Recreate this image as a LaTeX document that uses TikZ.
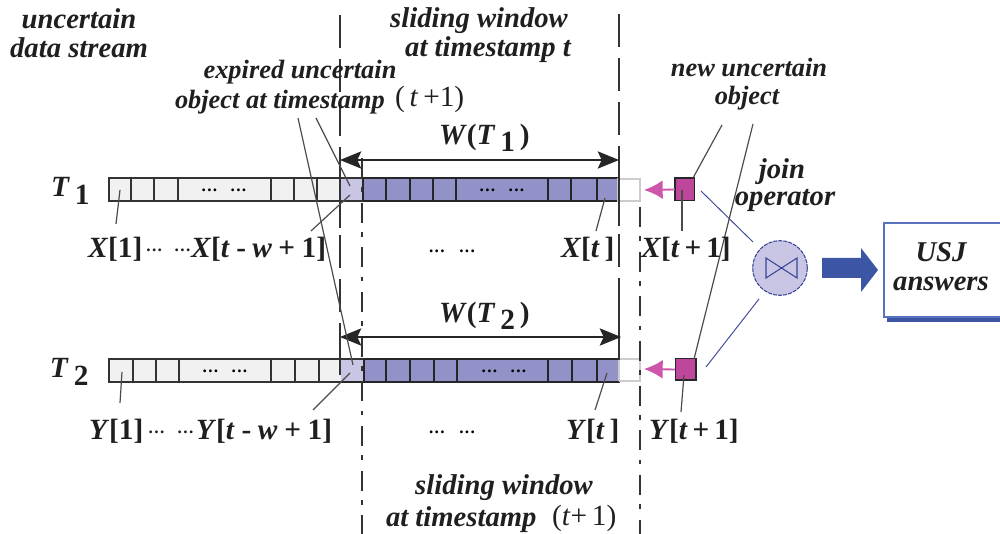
\documentclass[tikz,border=0pt]{standalone}
\usepackage{fontspec}
\setmainfont{Liberation Serif}
\usetikzlibrary{arrows.meta}
\definecolor{cellgray}{RGB}{241,241,241}
\definecolor{lilac}{RGB}{200,198,228}
\definecolor{winblue}{RGB}{146,146,200}
\definecolor{magsq}{RGB}{190,70,155}
\definecolor{pinkarr}{RGB}{205,85,170}
\definecolor{joinblue}{RGB}{60,70,150}
\definecolor{bigblue}{RGB}{60,85,165}
\definecolor{boxblue}{RGB}{90,115,190}
\tikzset{
  every node/.style={inner sep=0pt,outer sep=0pt},
  ital/.style={font=\fontsize{21.5}{21.5}\selectfont\bfseries\itshape,align=center,text=black!88},
  italsm/.style={font=\fontsize{19.8}{19.8}\selectfont\bfseries\itshape,align=center,text=black!88},
  mlab/.style={font=\fontsize{22}{22}\selectfont\bfseries,text=black!88,anchor=west},
  cellg/.style={draw=black!80,line width=1pt,fill=cellgray},
  cellw/.style={draw=black!85,line width=1pt,fill=winblue},
  celll/.style={fill=lilac},
  ghost/.style={draw=black!20,line width=1pt,fill=white},
  newsq/.style={draw=black!85,line width=1pt,fill=magsq},
  leader/.style={draw=black!70,line width=.9pt},
  joinline/.style={draw=joinblue,line width=.7pt},
  wline/.style={draw=black!85,line width=.9pt},
  bound/.style={draw=black!80,line width=1pt,dash pattern=on 25pt off 8pt},
  boundsolid/.style={draw=black!80,line width=1pt},
  bounddd/.style={draw=black!80,line width=1pt,dash pattern=on 15pt off 7pt on 3.5pt off 8pt},
  warrow/.style={wline,{Stealth[length=16pt,width=13pt,inset=3pt]}-{Stealth[length=16pt,width=13pt,inset=3pt]}},
  pinkar/.style={draw=pinkarr,line width=1.4pt,-{Latex[length=14pt,width=14pt]}},
  joinop/.style={circle,draw=joinblue,line width=.8pt,dash pattern=on 3pt off .8pt,fill=lilac,minimum size=41pt},
  resbox/.style={draw=boxblue,line width=1.5pt,fill=white},
}
\newcommand{\vv}[1]{\textit{#1}}
\newcommand{\cdotsx}{{\fontsize{13}{13}\selectfont\bfseries .\kern1pt.\kern1pt.}}
\newcommand{\rdots}{\raisebox{4pt}{\cdotsx}}
\begin{document}
\begin{tikzpicture}[x=0.75pt,y=-0.75pt]
\useasboundingbox (0,0) rectangle (1000,534);
% row 1
\path[cellg] (109,178) rectangle (363,201);
\path[celll] (340.5,178.5) rectangle (363,200.5);
\path[cellw] (363,178) rectangle (618,201);
\path[ghost] (618,179) rectangle (640,201);
\foreach \x in {131,154,178,271,294,317} \draw[cellg] (\x,178) -- (\x,201);
\foreach \x in {386,410,433,456,548,571,597} \draw[cellw] (\x,178) -- (\x,201);
\draw[cellg] (109,178) -- (363,178) (109,201) -- (363,201);
% row 2
\path[cellg] (109,359) rectangle (364,382);
\path[celll] (341,359.5) rectangle (364,381.5);
\path[cellw] (364,359) rectangle (619,382);
\path[ghost] (619,359) rectangle (640,381);
\foreach \x in {133,156,179,271,295,319} \draw[cellg] (\x,359) -- (\x,382);
\foreach \x in {386,410,434,457,548,572,597} \draw[cellw] (\x,359) -- (\x,382);
\draw[cellg] (109,359) -- (364,359) (109,382) -- (364,382);
\draw[draw=black!85,line width=1.4pt] (341,382) -- (619,382);
% cell dots
\node (d1) at (224,190) {\cdotsx\kern10pt\cdotsx};
\node (d2) at (502,190) {\cdotsx\kern10pt\cdotsx};
\node (d3) at (225,371) {\cdotsx\kern10pt\cdotsx};
\node (d4) at (504,371) {\cdotsx\kern10pt\cdotsx};
% window boundaries
\coordinate (a1) at (340,15); \coordinate (a2) at (340,360);
\coordinate (a3) at (340,160); \coordinate (a4) at (340,228);
\coordinate (a5) at (340,330); \coordinate (a6) at (340,375);
\coordinate (b1) at (362,158); \coordinate (b2) at (362,534);
\coordinate (c1) at (619,14); \coordinate (c2) at (619,282);
\coordinate (c3) at (619,148); \coordinate (c4) at (619,226);
\coordinate (c5) at (619,282); \coordinate (c6) at (619,360);
\coordinate (e1) at (640,207); \coordinate (e2) at (640,534);
\draw[bound] (a1) -- (a2);
\draw[boundsolid] (a3) -- (a4);
\draw[boundsolid] (a5) -- (a6);
\draw[bounddd] (b1) -- (b2);
\draw[bound] (c1) -- (c2);
\draw[boundsolid] (c3) -- (c4);
\draw[boundsolid] (c5) -- (c6);
\draw[bounddd] (e1) -- (e2);
% width arrows
\coordinate (w1a) at (340,160); \coordinate (w1b) at (619,160);
\coordinate (w2a) at (340,337); \coordinate (w2b) at (621,337);
\draw[warrow] (w1a) -- (w1b);
\draw[warrow] (w2a) -- (w2b);
% squares and pink arrows
\node[newsq,minimum width=14.5pt,minimum height=17pt] (s1) at (684.5,189.5) {};
\node[newsq,minimum width=15.5pt,minimum height=16pt] (s2) at (685.5,369.5) {};
\coordinate (g1) at (644,190); \coordinate (g2) at (644,369);
\draw[pinkar] (s1.west) -- (g1);
\draw[pinkar] (s2.west) -- (g2);
% join and result
\node[joinop] (join) at (780,268) {};
\draw[joinblue,line width=.8pt] (766,258) -- (797,278) -- (797,258) -- (766,278) -- cycle;
\coordinate (j1a) at (701,191); \coordinate (j1b) at (753,242);
\coordinate (j2a) at (759,299); \coordinate (j2b) at (706,367);
\draw[joinline] (j1a) -- (j1b);
\draw[joinline] (j2a) -- (j2b);
\fill[bigblue] (887,228) rectangle (1000,322);
\node[resbox,minimum width=90pt,minimum height=70.5pt,anchor=north west] (res) at (883.5,223) {};
\fill[bigblue] (822,258) -- (861,258) -- (861,248) -- (878,270) -- (861,292) -- (861,278) -- (822,278) -- cycle;
% leaders
\coordinate (l1a) at (316,118); \coordinate (l1b) at (350,186);
\coordinate (l2a) at (298,118); \coordinate (l2b) at (353,365);
\coordinate (l3a) at (311,231); \coordinate (l3b) at (350,195);
\coordinate (l4a) at (313,410); \coordinate (l4b) at (350,373);
\coordinate (l5a) at (120,190); \coordinate (l5b) at (116,224);
\coordinate (l6a) at (122,372); \coordinate (l6b) at (120,403);
\coordinate (l7a) at (605,198); \coordinate (l7b) at (596,231);
\coordinate (l8a) at (607,373); \coordinate (l8b) at (595,410);
\coordinate (l9a) at (722,125); \coordinate (l9b) at (693,178);
\coordinate (l10a) at (753,124); \coordinate (l10b) at (694,359);
\coordinate (l11a) at (682,190); \coordinate (l11b) at (682,231);
\coordinate (l12a) at (684,375); \coordinate (l12b) at (681,412);
\foreach \n in {1,...,12} \draw[leader] (l\n a) -- (l\n b);
% italic captions
\node[ital] (t1) at (79,33) {uncertain\\data stream};
\node[ital] (t2) at (479,21) {sliding window};
\node[ital] (t2b) at (488,50) {at timestamp t};
\node[italsm] (t3) at (300,72) {expired uncertain};
\node[italsm,anchor=west] (t4) at (175,102) {object at timestamp};
\node[mlab,font=\fontsize{22}{22}\selectfont] (t4b) at (395,99) {(\,\vv{t}\,+1)};
\node[italsm] (t5) at (749,68) {new uncertain};
\node[italsm] (t6) at (747,98) {object};
\node[ital] (t7) at (782,172) {join};
\node[ital] (t8) at (785,200) {operator};
\node[ital] (t9) at (941,252) {USJ};
\node[ital] (t10) at (941,284) {answers};
\node[ital] (t11) at (504,488) {sliding window};
\node[ital,anchor=west] (t12) at (386,520) {at timestamp};
\node[mlab,font=\fontsize{22}{22}\selectfont] (t12b) at (552,518) {(\vv{t}+\,1)};
% math labels
\node[mlab] (w1) at (439,138) {\vv{W}(\vv{T}{\,\raisebox{-5pt}{1}}\,)};
\node[mlab] (w2) at (439,316) {\vv{W}(\vv{T}{\,\raisebox{-5pt}{2}}\,)};
\node[mlab] (r1) at (51,191) {\vv{T}\,\raisebox{-6pt}{1}};
\node[mlab] (r2) at (50,372) {\vv{T}\,\raisebox{-6pt}{2}};
\node[mlab] (x1) at (88,249) {\vv{X}[1]\kern3pt\rdots\kern9.5pt\rdots\kern.5pt\vv{X}[\vv{t}\kern4.8pt-\kern4.8pt\vv{w}\kern4.8pt+\kern4.8pt1]};
\node[mlab] (y1) at (89,431) {\vv{Y}[1]\kern4pt\rdots\kern10pt\rdots\kern2pt\vv{Y}[\vv{t}\kern5pt-\kern5pt\vv{w}\kern5pt+\kern5pt1]};
\node (x2) at (452,251) {\cdotsx\kern11pt\cdotsx};
\node (y2) at (452,432) {\cdotsx\kern11pt\cdotsx};
\node[mlab] (x3) at (561,249) {\vv{X}[\vv{t}\,]};
\node[mlab] (y3) at (566,431) {\vv{Y}[\vv{t}\,]};
\node[mlab] (x4) at (641,249) {\vv{X}[\vv{t}\,+\,1]};
\node[mlab] (y4) at (649,431) {\vv{Y}[\vv{t}\,+\,1]};
\end{tikzpicture}
\end{document}
